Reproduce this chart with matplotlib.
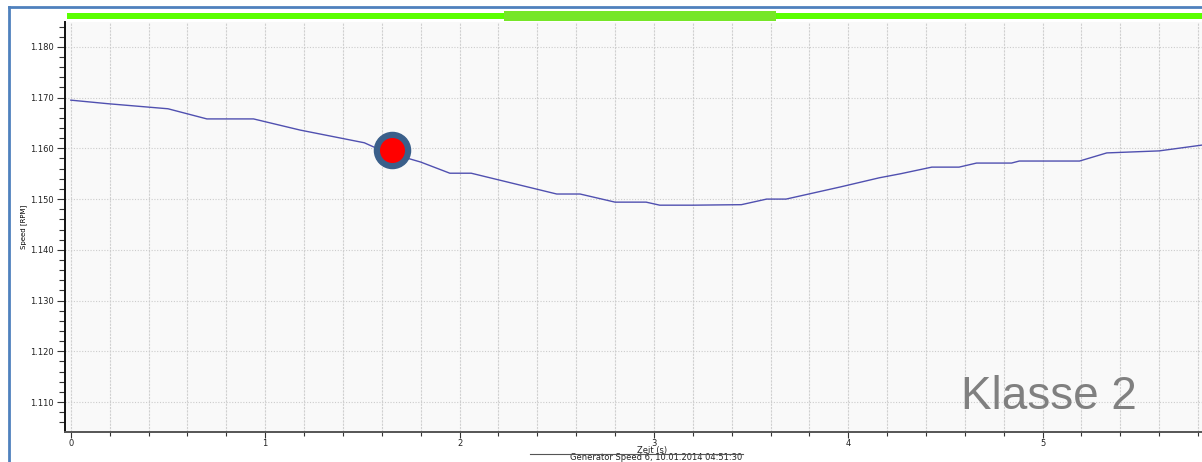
import numpy as np
import matplotlib
matplotlib.use("Agg")
import matplotlib.pyplot as plt
import matplotlib.transforms as mtransforms
from matplotlib.patches import Rectangle
from matplotlib.lines import Line2D

# generator speed trace
zeit = [0.00, 0.19, 0.50, 0.70, 0.94, 1.18, 1.51, 1.58, 1.71, 1.80, 1.95, 2.06,
        2.50, 2.62, 2.80, 2.96, 3.03, 3.20, 3.45, 3.58, 3.68, 3.96, 4.16, 4.27,
        4.43, 4.57, 4.66, 4.84, 4.88, 5.19, 5.33, 5.60, 5.85]
speed = [1.1695, 1.1688, 1.1678, 1.1658, 1.1658, 1.1636, 1.1611, 1.1599, 1.1583,
         1.1573, 1.1551, 1.1551, 1.1510, 1.1510, 1.1494, 1.1494, 1.1488, 1.1488,
         1.1489, 1.1500, 1.1500, 1.1524, 1.1542, 1.1550, 1.1563, 1.1563, 1.1571,
         1.1571, 1.1575, 1.1575, 1.1591, 1.1595, 1.1608]
marker_pt = (1.65, 1.1597)
highlight = (2.23, 3.63)   # darker green segment on status bar
y_ticks = [1.110, 1.120, 1.130, 1.140, 1.150, 1.160, 1.170, 1.180]
x_ticks = [0, 1, 2, 3, 4, 5]

W, H = 1202, 462
fig = plt.figure(figsize=(W / 100, H / 100), dpi=100)
fig.patch.set_facecolor("white")

ax = fig.add_axes([65 / W, 30 / H, (W - 65) / W, 410 / H])
ax.set_facecolor("#f9f9f9")
ax.set_xlim(-0.03, 5.82)
ax.set_ylim(1.1041, 1.1849)

ax.plot(zeit, speed, color="#5050b0", lw=1.0, zorder=3)
ax.plot(*marker_pt, "o", ms=26, mfc="#3a5f8a", mec="#3a5f8a", zorder=4)
ax.plot(*marker_pt, "o", ms=17, mfc="#ff0000", mec="#ff0000", zorder=5)

ax.set_xticks(x_ticks)
ax.set_xticks(np.arange(0, 5.9, 0.2), minor=True)
ax.set_yticks(y_ticks)
ax.set_yticks(np.arange(1.106, 1.185, 0.002), minor=True)
ax.set_yticklabels(["%.3f" % v for v in y_ticks])
ax.tick_params(axis="y", which="major", labelsize=6, length=6, width=0.8,
               color="#333333", labelcolor="#222222", pad=2)
ax.tick_params(axis="y", which="minor", length=4, width=0.8, color="#333333")
ax.tick_params(axis="x", which="major", labelsize=6, length=4, width=0.8,
               color="#333333", labelcolor="#222222", pad=1)
ax.tick_params(axis="x", which="minor", length=3, width=0.8, color="#333333")

ax.grid(axis="x", which="both", color="#d0d0d0", ls=(0, (2, 1)), lw=0.8)
ax.grid(axis="y", which="major", color="#cccccc", ls=(0, (1, 1.5)), lw=0.8)
ax.set_axisbelow(True)

for s in ["top", "right"]:
    ax.spines[s].set_visible(False)
ax.spines["left"].set_color("#111111")
ax.spines["left"].set_linewidth(1.4)
ax.spines["bottom"].set_color("#555555")
ax.spines["bottom"].set_linewidth(1.4)

ax.set_ylabel("Speed [RPM]", fontsize=5, va="center")
ax.yaxis.set_label_coords(-41 / (W - 65), 0.50)
ax.text(652 / W, 1 - 450 / H, "Zeit (s)", transform=fig.transFigure,
        fontsize=6, ha="center", va="center", color="#222222")
fig.add_artist(Line2D([530 / W, 743 / W], [1 - 454 / H] * 2, color="#555555", lw=0.8))
ax.text(656 / W, 1 - 457.5 / H, "Generator Speed 6, 10.01.2014 04:51:30",
        transform=fig.transFigure, fontsize=6, ha="center", va="center", color="#222222")

ax.text(1049 / W, 1 - 397 / H, "Klasse 2", transform=fig.transFigure,
        fontsize=33, family="Liberation Sans", color="#808080", ha="center", va="center")

# status bar on top
bt = mtransforms.blended_transform_factory(ax.transData, fig.transFigure)
fig.add_artist(Rectangle((67 / W, 1 - 19 / H), 1, 6 / H, transform=fig.transFigure,
                         color="#5aff00", lw=0))
fig.add_artist(Rectangle((highlight[0], 1 - 21 / H), highlight[1] - highlight[0], 10 / H,
                         transform=bt, color="#76e628", lw=0))

# blue frame
fig.add_artist(Line2D([9 / W, 9 / W], [0, 1 - 7 / H], color="#4f81bd", lw=2))
fig.add_artist(Line2D([9 / W, 1], [1 - 7 / H] * 2, color="#4f81bd", lw=2))

fig.savefig("out.png", dpi=100)
